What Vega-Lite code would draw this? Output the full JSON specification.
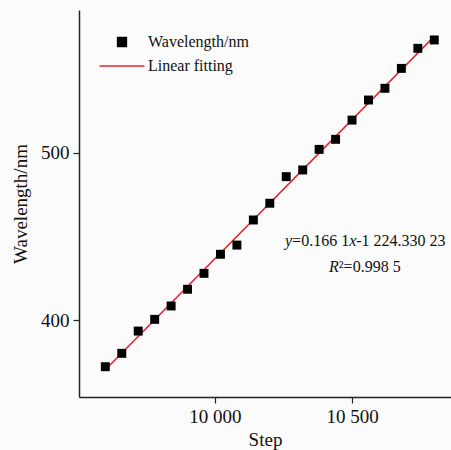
{
  "$schema": "https://vega.github.io/schema/vega-lite/v6.json",
  "width": 372,
  "height": 387,
  "autosize": "none",
  "padding": {"left": 79, "top": 10, "right": 0, "bottom": 53},
  "background": "#fbfbfb",
  "config": {
    "view": {"stroke": null},
    "font": "Liberation Serif",
    "axis": {
      "domainColor": "#222222",
      "domainWidth": 1.5,
      "tickColor": "#222222",
      "tickWidth": 1.2,
      "tickSize": 6,
      "labelColor": "#111111",
      "titleColor": "#111111",
      "labelFontSize": 19,
      "titleFontSize": 19,
      "titleFontWeight": "normal",
      "grid": false,
      "labelFont": "Liberation Serif",
      "titleFont": "Liberation Serif"
    }
  },
  "datasets": {
    "measured": [
      {"step": 9600, "wl": 372.1, "series": "Wavelength/nm"},
      {"step": 9660, "wl": 380.1, "series": "Wavelength/nm"},
      {"step": 9720, "wl": 393.4, "series": "Wavelength/nm"},
      {"step": 9780, "wl": 400.4, "series": "Wavelength/nm"},
      {"step": 9840, "wl": 408.4, "series": "Wavelength/nm"},
      {"step": 9900, "wl": 418.4, "series": "Wavelength/nm"},
      {"step": 9960, "wl": 427.9, "series": "Wavelength/nm"},
      {"step": 10020, "wl": 439.3, "series": "Wavelength/nm"},
      {"step": 10080, "wl": 444.8, "series": "Wavelength/nm"},
      {"step": 10140, "wl": 459.8, "series": "Wavelength/nm"},
      {"step": 10200, "wl": 469.8, "series": "Wavelength/nm"},
      {"step": 10260, "wl": 485.7, "series": "Wavelength/nm"},
      {"step": 10320, "wl": 489.7, "series": "Wavelength/nm"},
      {"step": 10380, "wl": 502.0, "series": "Wavelength/nm"},
      {"step": 10440, "wl": 508.0, "series": "Wavelength/nm"},
      {"step": 10500, "wl": 519.5, "series": "Wavelength/nm"},
      {"step": 10560, "wl": 531.5, "series": "Wavelength/nm"},
      {"step": 10620, "wl": 538.5, "series": "Wavelength/nm"},
      {"step": 10680, "wl": 550.4, "series": "Wavelength/nm"},
      {"step": 10740, "wl": 562.4, "series": "Wavelength/nm"},
      {"step": 10800, "wl": 567.4, "series": "Wavelength/nm"}
    ],
    "fit": [
      {"step": 9600, "wl": 370.23, "series": "Linear fitting"},
      {"step": 10800, "wl": 569.55, "series": "Linear fitting"}
    ],
    "notesItalic": [
      {"step": 10255.5, "wl": 444.2, "txt": "y"},
      {"step": 10489.4, "wl": 444.2, "txt": "x"},
      {"step": 10416, "wl": 428.5, "txt": "R"}
    ],
    "notesPlain": [
      {"step": 10281.4, "wl": 444.2, "txt": "=0.166 1"},
      {"step": 10515.3, "wl": 444.2, "txt": "-1 224.330 23"},
      {"step": 10451.8, "wl": 428.5, "txt": "²=0.998 5"}
    ]
  },
  "layer": [
    {
      "data": {"name": "fit"},
      "mark": {"type": "line", "strokeWidth": 1.5},
      "encoding": {
        "x": {"field": "step", "type": "quantitative", "scale": {"domain": [9504, 10861], "nice": false, "zero": false},
              "axis": {"values": [10000, 10500], "title": "Step", "labelExpr": "replace(format(datum.value, ','), ',', ' ')", "labelPadding": 4, "titlePadding": 4}},
        "y": {"field": "wl", "type": "quantitative", "scale": {"domain": [354, 585.3], "nice": false, "zero": false},
              "axis": {"values": [400, 500], "title": "Wavelength/nm", "labelPadding": 4, "titlePadding": 10}},
        "color": {"field": "series", "type": "nominal",
                  "scale": {"domain": ["Wavelength/nm", "Linear fitting"], "range": ["#000000", "#e8222a"]},
                  "legend": {"title": null, "orient": "none", "legendX": 35, "legendY": 24,
                             "labelFontSize": 16, "labelFont": "Liberation Serif", "labelColor": "#111111",
                             "symbolType": "square", "symbolSize": 81, "labelOffset": 18, "rowPadding": 8,
                             "encode": {"symbols": {"update": {
                               "shape": {"signal": "datum.value === 'Linear fitting' ? 'M-5,0H5' : 'square'"},
                               "fill": {"scale": "color", "field": "value"},
                               "stroke": {"scale": "color", "field": "value"},
                               "strokeWidth": {"value": 1.3},
                               "opacity": {"value": 1}
                             }}}}}
      }
    },
    {
      "data": {"name": "measured"},
      "mark": {"type": "point", "shape": "square", "filled": true, "size": 80, "opacity": 1},
      "encoding": {
        "x": {"field": "step", "type": "quantitative"},
        "y": {"field": "wl", "type": "quantitative"},
        "color": {"field": "series", "type": "nominal"}
      }
    },
    {
      "data": {"name": "notesItalic"},
      "mark": {"type": "text", "fontSize": 16, "font": "Liberation Serif", "fontStyle": "italic", "color": "#111111", "align": "left", "baseline": "alphabetic"},
      "encoding": {
        "x": {"field": "step", "type": "quantitative"},
        "y": {"field": "wl", "type": "quantitative"},
        "text": {"field": "txt"}
      }
    },
    {
      "data": {"name": "notesPlain"},
      "mark": {"type": "text", "fontSize": 16, "font": "Liberation Serif", "color": "#111111", "align": "left", "baseline": "alphabetic"},
      "encoding": {
        "x": {"field": "step", "type": "quantitative"},
        "y": {"field": "wl", "type": "quantitative"},
        "text": {"field": "txt"}
      }
    }
  ]
}
